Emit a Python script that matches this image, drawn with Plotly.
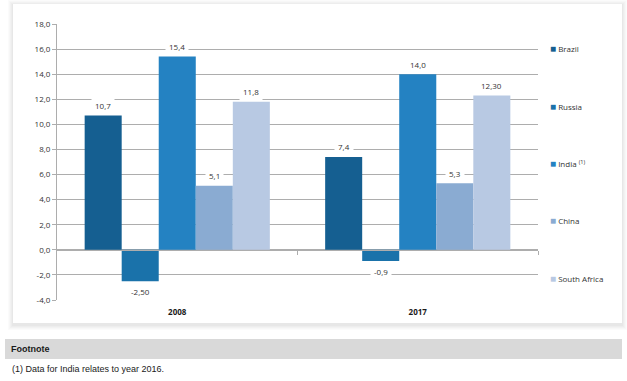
import plotly.graph_objects as go

# ---- data ----
years = ["2008", "2017"]
series_names = ["Brazil", "Russia", "India", "China", "South Africa"]
legend_labels = ["Brazil", "Russia", "India <sup>(1)</sup>", "China", "South Africa"]
brazil = [10.7, 7.4]
russia = [-2.5, -0.9]
india = [15.4, 14.0]
china = [5.1, 5.3]
south_africa = [11.8, 12.3]
brazil_lbl = ["10,7", "7,4"]
russia_lbl = ["-2,50", "-0,9"]
india_lbl = ["15,4", "14,0"]
china_lbl = ["5,1", "5,3"]
south_africa_lbl = ["11,8", "12,30"]
y_ticks = [-4, -2, 0, 2, 4, 6, 8, 10, 12, 14, 16, 18]
y_tick_text = ["-4,0", "-2,0", "0,0", "2,0", "4,0", "6,0", "8,0", "10,0", "12,0", "14,0", "16,0", "18,0"]
footnote_title = "Footnote"
footnote_text = "(1) Data for India relates to year 2016."

values = [brazil, russia, india, china, south_africa]
labels = [brazil_lbl, russia_lbl, india_lbl, china_lbl, south_africa_lbl]
colors = ["#155F91", "#1A72AA", "#2482C2", "#8AABD2", "#B8C9E3"]

# ---- layout geometry (pixels) ----
W, H = 627, 381
L, R, T, B = 57, 538, 24, 300
YMIN, YMAX = -4, 18
BARGAP = 0.23
FONT = "Open Sans"
TXT = "#333333"
GRID = "#ADADAD"

def px2x(px):
    return (px - L) / (R - L)

def py2y(py):
    return (B - py) / (B - T)

xs = list(range(len(years)))
n = len(series_names)
bw = (1 - BARGAP) / n

fig = go.Figure()
for i, name in enumerate(series_names):
    fig.add_trace(go.Bar(
        x=xs, y=values[i], name=name, marker=dict(color=colors[i], line=dict(width=0)),
        showlegend=False, hoverinfo="skip",
    ))

# invisible trace to activate the zero-line axis
fig.add_trace(go.Scatter(x=[0], y=[0], xaxis="x2", mode="markers",
                         marker=dict(size=1, opacity=0), showlegend=False, hoverinfo="skip"))

annotations = []
# data labels
for i in range(n):
    for g, v in enumerate(values[i]):
        annotations.append(dict(
            x=xs[g] + (i - (n - 1) / 2) * bw, y=v, xref="x", yref="y",
            text=labels[i][g], showarrow=False,
            yshift=10 if v >= 0 else -10,
            font=dict(family=FONT, size=8, color=TXT),
            bgcolor="white", borderpad=3,
        ))

# legend (right side)
leg_top, leg_step = 48, 57.5
for i in range(n):
    annotations.append(dict(
        x=px2x(548), y=py2y(leg_top + i * leg_step), xref="paper", yref="paper",
        xanchor="left", yanchor="middle", showarrow=False,
        text=f'<span style="color:{colors[i]};font-size:10px">■</span> {legend_labels[i]}',
        font=dict(family=FONT, size=8, color=TXT),
    ))

# footnote
annotations.append(dict(
    x=px2x(9), y=py2y(349), xref="paper", yref="paper", xanchor="left", yanchor="middle",
    showarrow=False, text=f"<b>{footnote_title}</b>",
    font=dict(family="Liberation Sans", size=9, color="#1a1a1a"),
))
annotations.append(dict(
    x=px2x(10), y=py2y(369), xref="paper", yref="paper", xanchor="left", yanchor="middle",
    showarrow=False, text=footnote_text,
    font=dict(family="Liberation Sans", size=9, color="#1a1a1a"),
))

shapes = []
# card shadow
card = (13, 4, 622, 323)
for k, op in enumerate([0.015, 0.015, 0.018, 0.02, 0.022]):
    e = 5 - k
    shapes.append(dict(
        type="rect", xref="paper", yref="paper", layer="below",
        x0=px2x(card[0] - e), x1=px2x(card[2] + e),
        y0=py2y(card[3] + e + 2), y1=py2y(card[1] - e + 1),
        fillcolor=f"rgba(0,0,0,{op})", line=dict(width=0),
    ))
shapes.append(dict(
    type="rect", xref="paper", yref="paper", layer="below",
    x0=px2x(card[0]), x1=px2x(card[2]), y0=py2y(card[3]), y1=py2y(card[1]),
    fillcolor="white", line=dict(width=0),
))
# footnote band
shapes.append(dict(
    type="rect", xref="paper", yref="paper", layer="below",
    x0=px2x(5), x1=px2x(622), y0=py2y(359), y1=py2y(339),
    fillcolor="#D9D9D9", line=dict(width=0),
))

zero_pos = (0 - YMIN) / (YMAX - YMIN)

fig.update_layout(
    width=W, height=H,
    margin=dict(l=L, r=W - R, t=T, b=H - B, pad=0),
    paper_bgcolor="white", plot_bgcolor="rgba(0,0,0,0)",
    barmode="group", bargap=BARGAP, bargroupgap=0,
    showlegend=False,
    annotations=annotations, shapes=shapes,
    xaxis=dict(
        range=[-0.5, len(years) - 0.5], tickvals=xs, ticktext=[f"<b>{y}</b>" for y in years],
        showgrid=False, zeroline=False, showline=False, ticks="",
        ticklabelstandoff=6,
        tickfont=dict(family=FONT, size=8, color="#1a1a1a"),
    ),
    xaxis2=dict(
        overlaying="x", matches="x", anchor="free", position=zero_pos,
        range=[-0.5, len(years) - 0.5],
        tickvals=[g + 0.5 for g in xs], showticklabels=False,
        ticks="outside", ticklen=4, tickcolor=GRID, tickwidth=1,
        showline=True, linecolor=GRID, linewidth=1, showgrid=False, zeroline=False,
    ),
    yaxis=dict(
        range=[YMIN, YMAX], tickvals=y_ticks, ticktext=y_tick_text,
        showgrid=True, gridcolor=GRID, gridwidth=1,
        zeroline=False, showline=True, linecolor=GRID, linewidth=1,
        ticks="outside", ticklen=4, tickcolor=GRID,
        tickfont=dict(family=FONT, size=8, color=TXT),
    ),
)

fig.write_html(
    "out.html",
    config={"displayModeBar": False},
    post_script="document.body.style.margin='0';document.body.style.padding='0';",
)
